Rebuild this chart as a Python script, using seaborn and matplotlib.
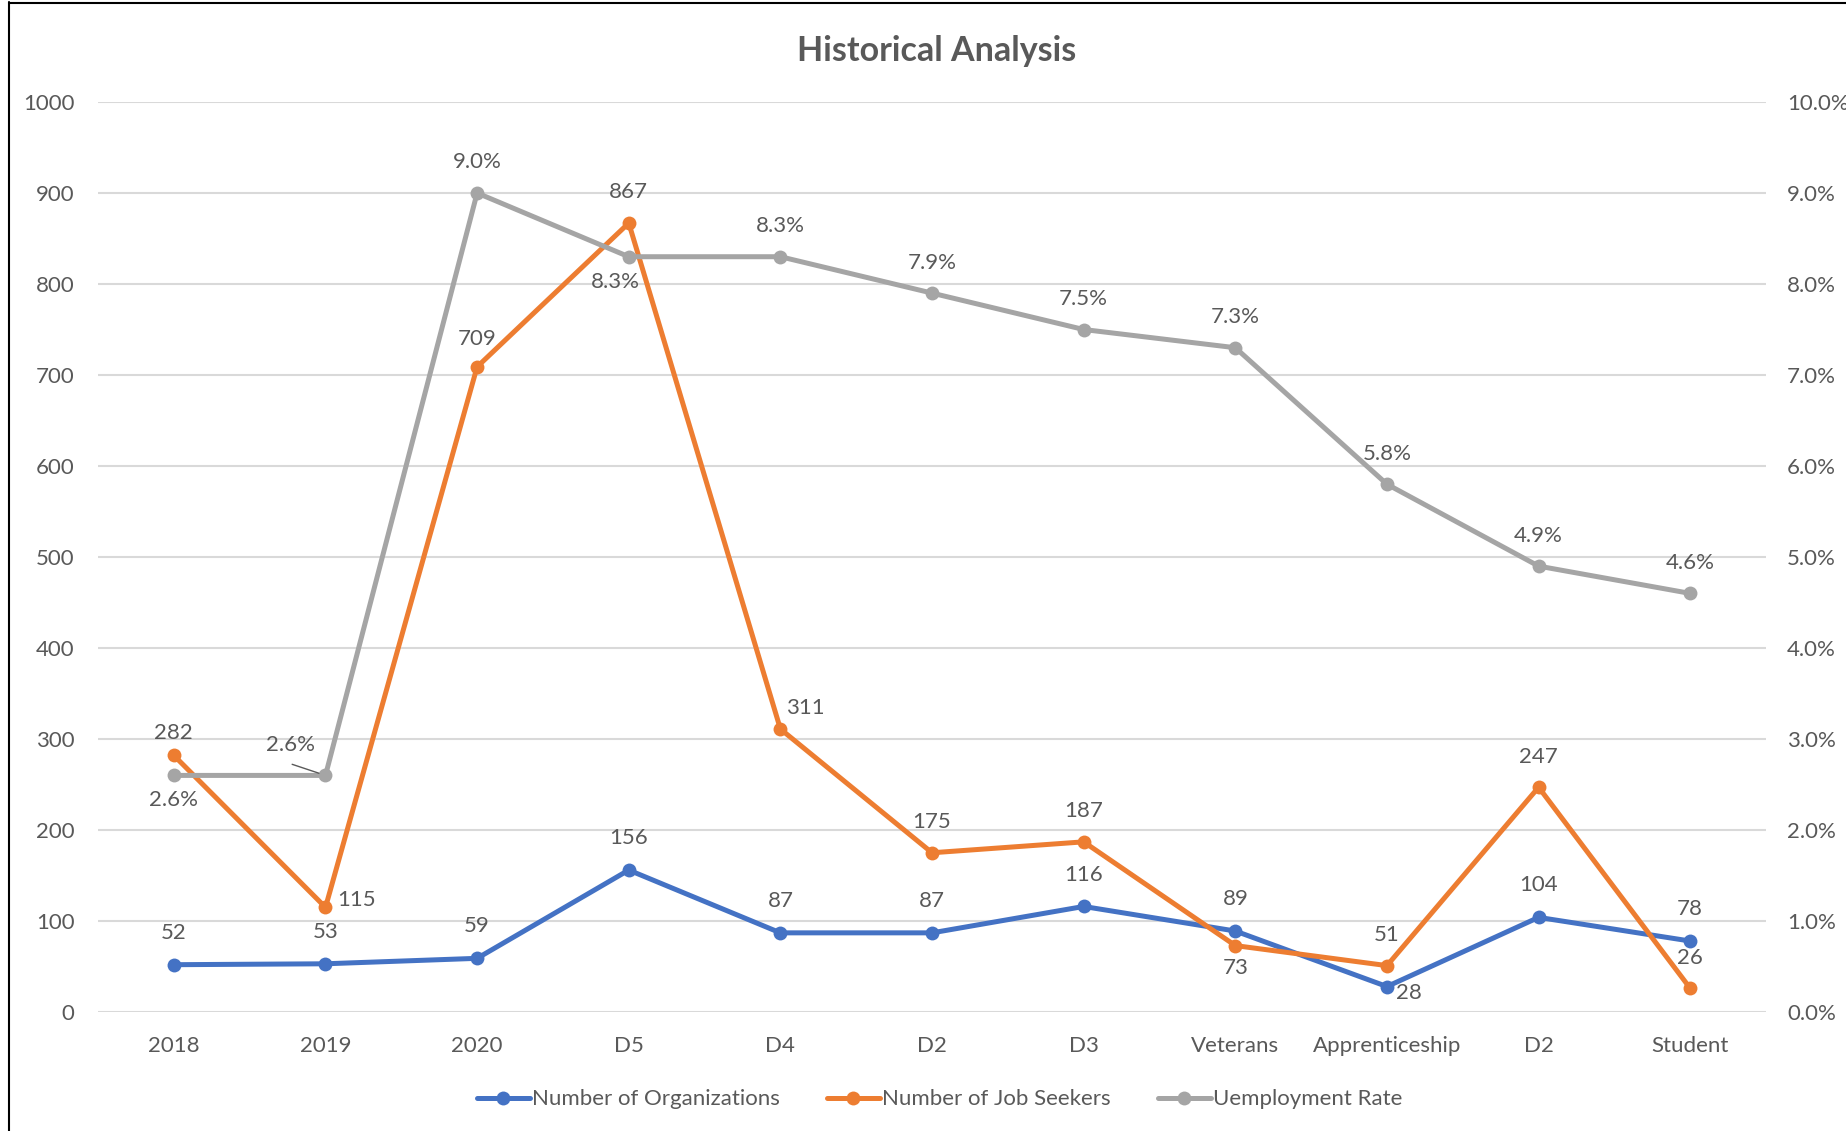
import matplotlib.pyplot as plt
from matplotlib.lines import Line2D
import numpy as np
import seaborn as sns

sns.set_style('white')
plt.rcParams['font.family'] = ['Lato', 'DejaVu Sans']

# ---------------------------------------------------------------------------------------
# Data

categories = ['2018', '2019', '2020', 'D5', 'D4', 'D2', 'D3', 'Veterans',
              'Apprenticeship', 'D2', 'Student']
organizations = [52, 53, 59, 156, 87, 87, 116, 89, 28, 104, 78]
job_seekers = [282, 115, 709, 867, 311, 175, 187, 73, 51, 247, 26]
unemployment = [0.026, 0.026, 0.090, 0.083, 0.083, 0.079, 0.075, 0.073, 0.058, 0.049, 0.046]

# label placement (dx, dy in points) per point
org_offsets = [(0, 23)] * 8 + [(16, -5)] + [(0, 23)] * 2
job_offsets = [(0, 16), (22, 5), (0, 20), (0, 22), (18, 15), (0, 22), (0, 22),
               (0, -16), (0, 22), (0, 22), (0, 22)]
rate_offsets = [(0, -18), (-25, 22), (0, 22), (-10, -18), (0, 22), (0, 22), (0, 22),
                (0, 22), (0, 22), (0, 22), (0, 22)]

blue = '#4472C4'
orange = '#ED7D31'
gray = '#A5A5A5'
text_col = '#595959'

x = np.arange(len(categories))

# ---------------------------------------------------------------------------------------
# Plot

fig = plt.figure(figsize=(18.46, 11.31), dpi=100)
ax = fig.add_axes([0.0531, 0.1052, 0.9036, 0.8046])
ax2 = ax.twinx()

line_kw = dict(linewidth=3.6, marker='o', markersize=10, markeredgewidth=0)
sns.lineplot(x=x, y=organizations, ax=ax, color=blue, label='Number of Organizations', **line_kw)
sns.lineplot(x=x, y=job_seekers, ax=ax, color=orange, label='Number of Job Seekers', **line_kw)
sns.lineplot(x=x, y=unemployment, ax=ax2, color=gray, label='Uemployment Rate', **line_kw)

ax.set_xlim(-0.5, len(categories) - 0.5)
ax.set_ylim(0, 1000)
ax2.set_ylim(0, 0.10)
ax.set_yticks(np.arange(0, 1001, 100))
ax2.set_yticks(np.arange(0, 0.1001, 0.01))
ax2.set_yticklabels([f'{v * 100:.1f}%' for v in np.arange(0, 0.1001, 0.01)])
ax.set_xticks(x)
ax.set_xticklabels(categories)

ax.grid(axis='y', color='#D9D9D9', linewidth=1.5)
ax.set_axisbelow(True)
for a in (ax, ax2):
    for s in a.spines.values():
        s.set_visible(False)
    a.tick_params(length=0, labelsize=16, colors=text_col)
ax.tick_params(axis='y', pad=17)
ax2.tick_params(axis='y', pad=15)
ax.tick_params(axis='x', pad=17)

# data labels
lbl_kw = dict(textcoords='offset points', ha='center', va='center',
              fontsize=16, color=text_col)
for i in x:
    ax.annotate(str(organizations[i]), (i, organizations[i]), xytext=org_offsets[i], **lbl_kw)
    ax.annotate(str(job_seekers[i]), (i, job_seekers[i]), xytext=job_offsets[i], **lbl_kw)
    ax2.annotate(f'{unemployment[i] * 100:.1f}%', (i, unemployment[i]),
                 xytext=rate_offsets[i], **lbl_kw)

# leader line for the 2019 rate label
ax2.annotate('', (1, unemployment[1]), xytext=(-24, 8), textcoords='offset points',
             arrowprops=dict(arrowstyle='-', color=text_col, linewidth=1, shrinkA=0, shrinkB=5))

# legend
h1, l1 = ax.get_legend_handles_labels()
h2, l2 = ax2.get_legend_handles_labels()
ax2.get_legend().remove()
ax.get_legend().remove()
fig.legend(h1 + h2, l1 + l2, loc='center', bbox_to_anchor=(0.509, 0.028), ncol=3,
           frameon=False, fontsize=16, handlelength=2.4, handletextpad=0.1,
           columnspacing=2.1, labelcolor=text_col)

fig.text(0.5076, 0.955, 'Historical Analysis', ha='center', va='center',
         fontsize=24.5, fontweight='bold', color=text_col)

# border of the original screenshot
fig.add_artist(Line2D([0.0049, 0.0049], [0, 0.998], color='black', linewidth=1.5))
fig.add_artist(Line2D([0.0049, 1], [0.997, 0.997], color='black', linewidth=1.5))

fig.savefig('out.png', dpi=100)
